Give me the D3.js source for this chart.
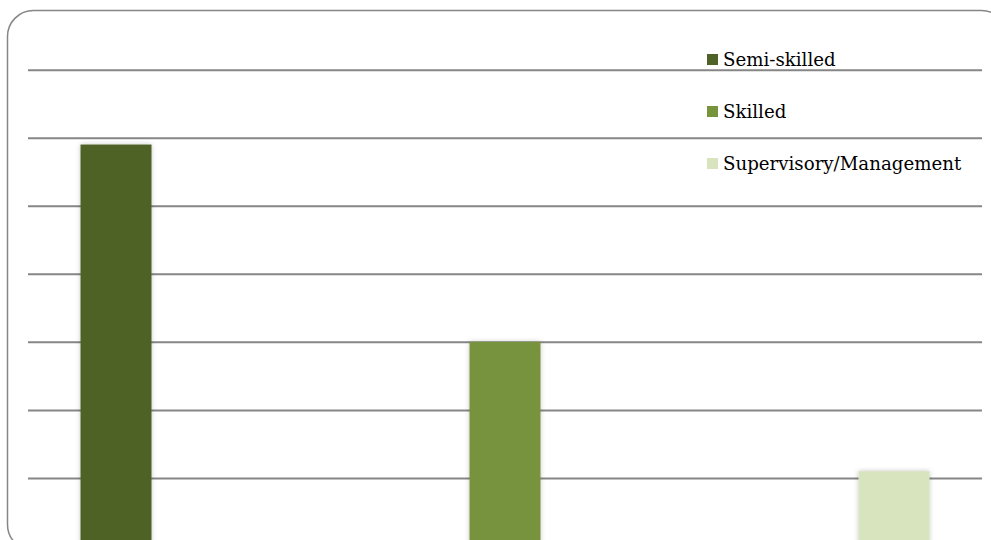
<!DOCTYPE html>
<html>
<head>
<meta charset="utf-8">
<script src="https://cdn.jsdelivr.net/npm/d3@7"></script>
<style>
  html, body { margin: 0; padding: 0; background: #fff; overflow: hidden; }
  svg { display: block; }
</style>
</head>
<body>
<div class="chart"></div>
<script>
// data
const categories = ['Semi-skilled', 'Skilled', 'Supervisory/Management'];
const values = [59, 30, 11];
const barColors = ['#4F6228', '#77933C', '#D7E4BD'];
const yTicks = [0, 10, 20, 30, 40, 50, 60, 70];

const width = 991;
const height = 540;
const plot = { left: 28, right: 982, top: 69.7, bottom: 546 };

const svg = d3.select('.chart').append('svg')
    .attr('width', width).attr('height', height);

// soft shadow like office charts
const defs = svg.append('defs');
const shadow = defs.append('filter').attr('id', 'shadow')
    .attr('x', '-20%').attr('y', '-5%').attr('width', '140%').attr('height', '110%');
shadow.append('feDropShadow')
    .attr('dx', 0).attr('dy', 0).attr('stdDeviation', 2.5)
    .attr('flood-color', '#000').attr('flood-opacity', 0.22);

// outer rounded frame
svg.append('rect')
    .attr('x', 7.5).attr('y', 10.5)
    .attr('width', 1000).attr('height', 540)
    .attr('rx', 26).attr('ry', 26)
    .style('fill', 'none').style('stroke', '#868686').style('stroke-width', 1.5);

// scales
const yScale = d3.scaleLinear().domain([0, 70]).range([plot.bottom, plot.top]);
const xScale = d3.scaleBand().domain(categories)
    .range([plot.left, plot.right])
    .paddingInner(0.8175).paddingOuter(0.135);

// gridlines
const yAxis = d3.axisLeft(yScale).tickValues(yTicks)
    .tickSize(-(plot.right - plot.left)).tickFormat('');
const yAxisDraw = svg.append('g').attr('class', 'y axis')
    .attr('transform', `translate(${plot.left},0)`)
    .call(yAxis);
yAxisDraw.select('.domain').remove();
yAxisDraw.selectAll('.tick line')
    .style('stroke', '#868686').style('stroke-width', 2);

// bars
svg.append('g').attr('class', 'bars')
    .selectAll('rect').data(categories).join('rect')
    .attr('x', d => xScale(d))
    .attr('y', (d, i) => yScale(values[i]))
    .attr('width', xScale.bandwidth())
    .attr('height', (d, i) => yScale(0) - yScale(values[i]))
    .style('fill', (d, i) => barColors[i])
    .attr('filter', 'url(#shadow)');

// legend
const legend = svg.append('g').attr('class', 'legend')
    .attr('transform', 'translate(707,0)');
const item = legend.selectAll('g').data(categories).join('g')
    .attr('transform', (d, i) => `translate(0,${66 + i * 52})`);
item.append('rect')
    .attr('x', 0).attr('y', -12)
    .attr('width', 11).attr('height', 11)
    .style('fill', (d, i) => barColors[i]);
item.append('text')
    .attr('x', 16).attr('y', 0)
    .style('font-family', '"DejaVu Serif", serif')
    .style('font-size', '18.2px')
    .style('fill', '#000')
    .text(d => d);
</script>
</body>
</html>
